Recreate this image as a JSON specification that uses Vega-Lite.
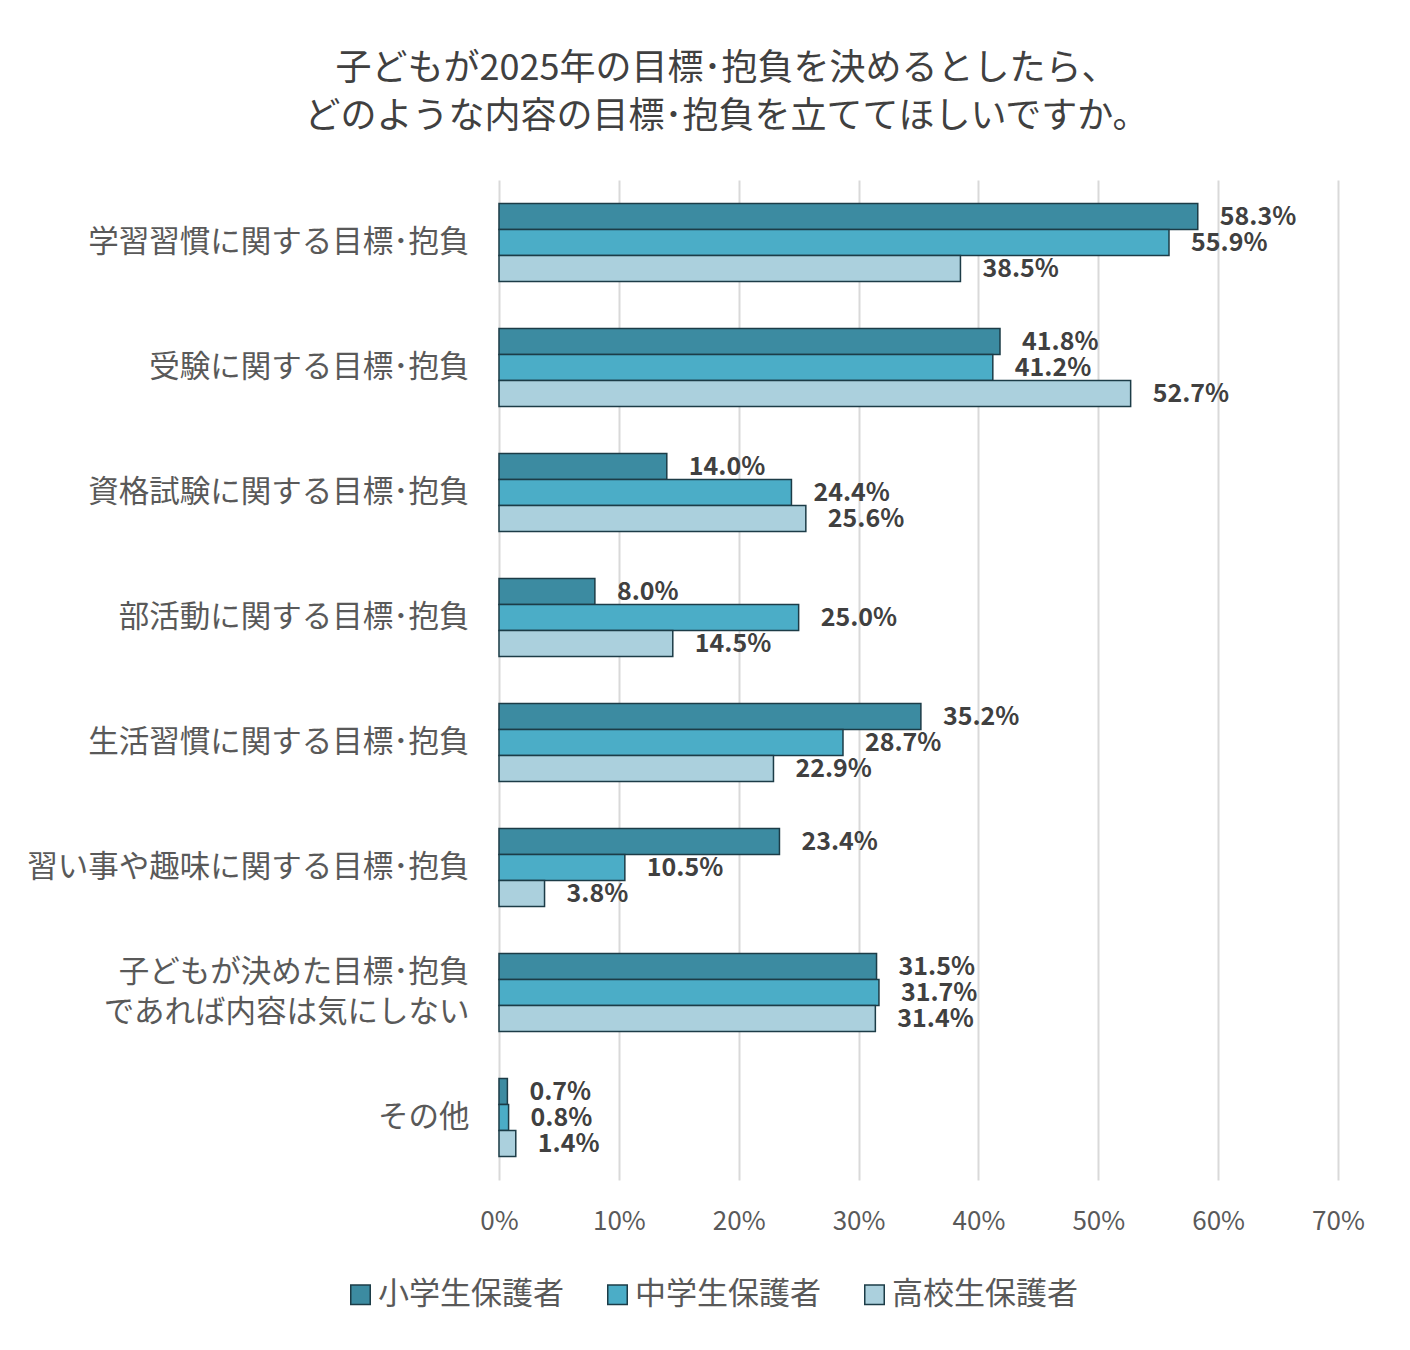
{
  "$schema": "https://vega.github.io/schema/vega-lite/v6.json",
  "autosize": "none",
  "width": 839,
  "height": 1000,
  "padding": {"left": 499, "top": 180, "right": 72, "bottom": 170},
  "background": "white",
  "title": {
    "text": ["子どもが2025年の目標･抱負を決めるとしたら、", "どのような内容の目標･抱負を立ててほしいですか。"],
    "anchor": "middle",
    "frame": "group",
    "dx": -192,
    "offset": 44,
    "fontSize": 36,
    "lineHeight": 48,
    "font": "Noto Sans CJK JP",
    "fontWeight": "normal",
    "color": "#404040"
  },
  "data": {
    "values": [
      {"item": "学習習慣に関する目標･抱負", "group": "小学生保護者", "v": 58.3},
      {"item": "学習習慣に関する目標･抱負", "group": "中学生保護者", "v": 55.9},
      {"item": "学習習慣に関する目標･抱負", "group": "高校生保護者", "v": 38.5},
      {"item": "受験に関する目標･抱負", "group": "小学生保護者", "v": 41.8},
      {"item": "受験に関する目標･抱負", "group": "中学生保護者", "v": 41.2},
      {"item": "受験に関する目標･抱負", "group": "高校生保護者", "v": 52.7},
      {"item": "資格試験に関する目標･抱負", "group": "小学生保護者", "v": 14.0},
      {"item": "資格試験に関する目標･抱負", "group": "中学生保護者", "v": 24.4},
      {"item": "資格試験に関する目標･抱負", "group": "高校生保護者", "v": 25.6},
      {"item": "部活動に関する目標･抱負", "group": "小学生保護者", "v": 8.0},
      {"item": "部活動に関する目標･抱負", "group": "中学生保護者", "v": 25.0},
      {"item": "部活動に関する目標･抱負", "group": "高校生保護者", "v": 14.5},
      {"item": "生活習慣に関する目標･抱負", "group": "小学生保護者", "v": 35.2},
      {"item": "生活習慣に関する目標･抱負", "group": "中学生保護者", "v": 28.7},
      {"item": "生活習慣に関する目標･抱負", "group": "高校生保護者", "v": 22.9},
      {"item": "習い事や趣味に関する目標･抱負", "group": "小学生保護者", "v": 23.4},
      {"item": "習い事や趣味に関する目標･抱負", "group": "中学生保護者", "v": 10.5},
      {"item": "習い事や趣味に関する目標･抱負", "group": "高校生保護者", "v": 3.8},
      {"item": "子どもが決めた目標･抱負\nであれば内容は気にしない", "group": "小学生保護者", "v": 31.5},
      {"item": "子どもが決めた目標･抱負\nであれば内容は気にしない", "group": "中学生保護者", "v": 31.7},
      {"item": "子どもが決めた目標･抱負\nであれば内容は気にしない", "group": "高校生保護者", "v": 31.4},
      {"item": "その他", "group": "小学生保護者", "v": 0.7},
      {"item": "その他", "group": "中学生保護者", "v": 0.8},
      {"item": "その他", "group": "高校生保護者", "v": 1.4}
    ]
  },
  "transform": [
    {"calculate": "format(datum.v, '.1f') + '%'", "as": "label"}
  ],
  "encoding": {
    "y": {
      "field": "item",
      "type": "nominal",
      "sort": null,
      "title": null,
      "scale": {"paddingInner": 0.376, "paddingOuter": 0.188},
      "axis": {
        "labelExpr": "split(datum.label, '\\n')",
        "labelFontSize": 30.5,
        "labelLineHeight": 40,
        "labelOffset": {"condition": {"test": "indexof(datum.value, 'であれば') >= 0", "value": -20}, "value": 0},
        "labelColor": "#595959",
        "labelFont": "Noto Sans CJK JP",
        "labelPadding": 30,
        "labelLimit": 500,
        "domain": false,
        "ticks": false,
        "grid": false
      }
    },
    "yOffset": {
      "field": "group",
      "sort": ["小学生保護者", "中学生保護者", "高校生保護者"],
      "scale": {"paddingInner": 0, "paddingOuter": 0}
    },
    "x": {
      "field": "v",
      "type": "quantitative",
      "title": null,
      "scale": {"domain": [0, 70], "nice": false},
      "axis": {
        "values": [0, 10, 20, 30, 40, 50, 60, 70],
        "labelExpr": "datum.value + '%'",
        "labelFlush": false,
        "labelFontSize": 26,
        "labelColor": "#595959",
        "labelFont": "Noto Sans CJK JP",
        "labelPadding": 28,
        "domain": false,
        "ticks": false,
        "grid": true,
        "gridColor": "#d9d9d9",
        "gridWidth": 2
      }
    }
  },
  "layer": [
    {
      "mark": {"type": "bar", "stroke": "#1c3c47", "strokeWidth": 1.5},
      "encoding": {
        "color": {
          "field": "group",
          "type": "nominal",
          "sort": ["小学生保護者", "中学生保護者", "高校生保護者"],
          "scale": {
            "domain": ["小学生保護者", "中学生保護者", "高校生保護者"],
            "range": ["#3c8ba1", "#4badc7", "#abd0dd"]
          },
          "legend": {
            "title": null,
            "orient": "none",
            "direction": "horizontal",
            "columns": 3,
            "legendX": -154,
            "legendY": 1099,
            "symbolType": "square",
            "symbolSize": 380,
            "symbolStrokeColor": "#1c3c47",
            "symbolStrokeWidth": 1.5,
            "labelFontSize": 31,
            "labelFont": "Noto Sans CJK JP",
            "labelColor": "#595959",
            "labelOffset": 2,
            "columnPadding": 38,
            "labelLimit": 300
          }
        }
      }
    },
    {
      "mark": {
        "type": "text",
        "align": "left",
        "baseline": "middle",
        "dx": 22,
        "fontSize": 25,
        "fontWeight": "bold",
        "font": "Noto Sans CJK JP",
        "color": "#404040"
      },
      "encoding": {
        "text": {"field": "label"}
      }
    }
  ],
  "config": {"view": {"stroke": null}}
}
